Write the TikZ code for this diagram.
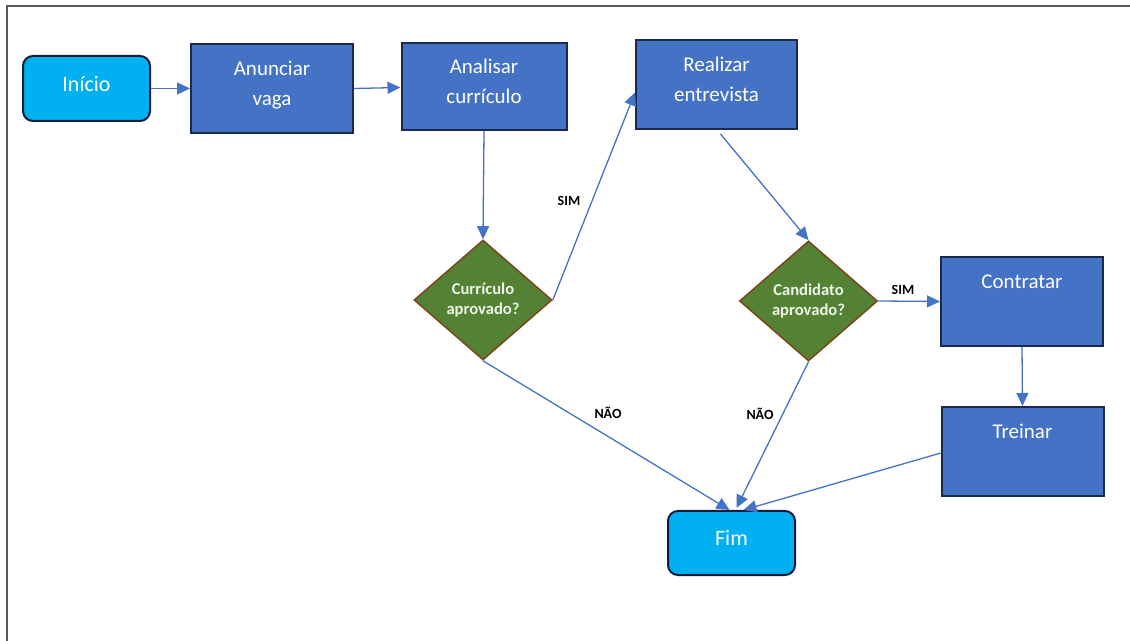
\documentclass[tikz,border=0pt]{standalone}
\usepackage{fontspec}
\setmainfont{Carlito}
\usetikzlibrary{shapes.geometric,arrows.meta}
\definecolor{boxblue}{HTML}{4472C4}
\definecolor{boxedge}{HTML}{1A2A4F}
\definecolor{termcyan}{HTML}{00B0F0}
\definecolor{termedge}{HTML}{0F1D3A}
\definecolor{decgreen}{HTML}{548235}
\definecolor{decedge}{HTML}{7A4A1E}
\definecolor{dectext}{HTML}{EEF5E8}
\definecolor{flowline}{HTML}{4472C4}
\definecolor{framegray}{HTML}{5A5A5A}
\tikzset{
  stepbox/.style={rectangle, draw=boxedge, line width=1pt, fill=boxblue,
    text=white, align=center, inner sep=0pt, text depth=5pt,
    minimum width=81pt, minimum height=44.5pt,
    font=\fontsize{10.5}{15}\selectfont},
  terminal/.style={rectangle, rounded corners=5pt, draw=termedge, line width=1pt,
    fill=termcyan, text=white, align=center, inner sep=0pt, text depth=5pt,
    minimum width=63.5pt, minimum height=32.5pt,
    font=\fontsize{11}{14}\selectfont},
  decision/.style={diamond, aspect=1.15, draw=decedge, line width=0.8pt,
    fill=decgreen, text=dectext, align=center, inner sep=0pt,
    minimum width=69pt, minimum height=60pt,
    font=\bfseries\fontsize{8.3}{9.8}\selectfont},
  flow/.style={draw=flowline, line width=0.65pt,
    -{Triangle[length=6.5pt,width=6pt]}},
  branch/.style={font=\bfseries\fontsize{7}{8}\selectfont, text=black, inner sep=0pt}
}
\begin{document}
\begin{tikzpicture}[x=0.5pt, y=-0.5pt]
\useasboundingbox (0,0) rectangle (1130,641);
% frame edges
\draw[framegray, line width=1pt] (7,641) -- (7,6) -- (1130,6);

% process steps
\node[terminal] (ini) at (86.5,88.5) {Início};
\node[stepbox] (anu) at (272,88.5) {Anunciar\\vaga};
\node[stepbox, minimum width=82.5pt, minimum height=43.5pt] (ana) at (484,86.5) {Analisar\\currículo};
\node[stepbox, minimum width=80.5pt] (rea) at (716.5,84.5) {Realizar\\entrevista};
\node[decision] (d1) at (483,300) {Currículo\\aprovado?};
\node[decision] (d2) at (808.5,301) {Candidato\\aprovado?};
\node[stepbox] (con) at (1022,301.5) {Contratar\\~};
\node[stepbox] (tre) at (1022.5,451.5) {Treinar\\~};
\node[terminal, minimum height=32pt] (fim) at (731.5,543) {Fim};

% branch labels
\node[branch] (sim1) at (569,201) {SIM};
\node[branch] (sim2) at (903,290) {SIM};
\node[branch] (nao1) at (608,413) {NÃO};
\node[branch] (nao2) at (760,414) {NÃO};

% connectors
\draw[flow] (ini.east) -- (anu.west);
\draw[flow] (anu.east) -- ([yshift=-0.5pt]ana.west);
\draw[flow] (ana.south) -- (d1.north);
\draw[flow] (d1.east) -- ([yshift=-4pt]rea.west);
\draw[flow] ([xshift=2pt,yshift=-2pt]rea.south) -- (d2.north);
\draw[flow] (d2.east) -- (con.west);
\draw[flow] (con.south) -- (tre.north);
\draw[flow] (d1.south) -- ([xshift=-1pt]fim.north);
\draw[flow] (d2.south) -- ([xshift=2.5pt,yshift=1pt]fim.north);
\draw[flow] ([yshift=-0.8pt]tre.west) -- ([xshift=6pt]fim.north);
\end{tikzpicture}
\end{document}
